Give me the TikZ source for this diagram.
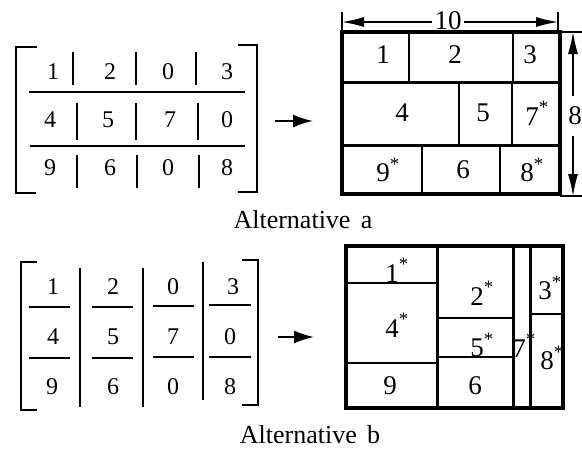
\documentclass[tikz,border=0pt]{standalone}
\usepackage{fontspec}
\setmainfont{Liberation Serif}
\usetikzlibrary{arrows.meta}
\newcommand{\astr}{\rlap{\raisebox{0.1em}{\textsuperscript{*}}}}
\begin{document}
\begin{tikzpicture}[x=1pt,y=-1pt,
  mat/.style={line width=2pt},
  mnum/.style={font=\fontsize{24}{24}\selectfont, inner sep=0pt},
  bnum/.style={font=\fontsize{27}{27}\selectfont, inner sep=0pt},
  outer/.style={line width=3.5pt},
  sep/.style={line width=3pt},
  thinl/.style={line width=1.6pt},
  caption/.style={font=\fontsize{26}{26}\selectfont, inner sep=0pt, anchor=base},
  bigarrow/.style={line width=2pt, -{Latex[length=20pt,width=13pt]}},
  dimarrow/.style={line width=1.3pt, -{Latex[length=22pt,width=10pt]}},
  ext/.style={line width=1.6pt}]
\useasboundingbox (0,0) rectangle (582,450);

% ---------- top matrix ----------
\draw[mat] (37,47) -- (16,47) -- (16,193) -- (36,193);
\draw[mat] (238,45) -- (257,45) -- (257,192) -- (238,192);
\draw[mat] (29,92) -- (245,92);
\draw[mat] (30,146) -- (245,146);
\foreach \x in {73,136,196} \draw[mat] (\x,52) -- (\x,85);
\foreach \x in {77,136,198} \draw[mat] (\x,103) -- (\x,140);
\foreach \x in {77,137,199} \draw[mat] (\x,155) -- (\x,188);
\node[mnum] (ta11) at (53,72) {1};
\node[mnum] (ta12) at (110,72) {2};
\node[mnum] (ta13) at (168,72) {0};
\node[mnum] (ta14) at (227,72) {3};
\node[mnum] (ta21) at (50,120) {4};
\node[mnum] (ta22) at (108,120) {5};
\node[mnum] (ta23) at (170,120) {7};
\node[mnum] (ta24) at (227,120) {0};
\node[mnum] (ta31) at (50,168) {9};
\node[mnum] (ta32) at (110,168) {6};
\node[mnum] (ta33) at (168,168) {0};
\node[mnum] (ta34) at (227,168) {8};

\coordinate (aas) at (275,121);
\coordinate (aae) at (313,121);
\draw[bigarrow] (aas) -- (aae);

% ---------- top box ----------
\draw[sep] (342,82) -- (560,82);
\draw[sep] (342,145) -- (560,145);
\draw[thinl] (409,32) -- (409,82);
\draw[thinl] (513,32) -- (513,82);
\draw[thinl] (459,82) -- (459,145);
\draw[thinl] (512,82) -- (512,145);
\draw[thinl] (422,145) -- (422,194);
\draw[thinl] (500,145) -- (500,194);
\draw[outer] (342,32) rectangle (560,194);
\node[bnum] (ba1) at (383,55) {1};
\node[bnum] (ba2) at (455,55) {2};
\node[bnum] (ba3) at (530,55) {3};
\node[bnum] (ba4) at (402,113) {4};
\node[bnum] (ba5) at (483,113) {5};
\node[bnum] (ba7) at (532,113) {7\astr};
\node[bnum] (ba9) at (383,170) {9\astr};
\node[bnum] (ba6) at (463,170) {6};
\node[bnum] (ba8) at (527,170) {8\astr};

% dimension 10
\draw[ext] (342,12) -- (342,32);
\draw[ext] (558,12) -- (558,32);
\node[bnum] (d10) at (448,21) {10};
\coordinate (d10l) at (342,22);
\coordinate (d10r) at (558,22);
\draw[dimarrow] (d10.west) ++(-2,1) -- (d10l);
\draw[dimarrow] (d10.east) ++(2,1) -- (d10r);
% dimension 8
\draw[ext] (560,32) -- (582,32);
\draw[ext] (560,196) -- (582,196);
\node[bnum] (d8) at (575,116) {8};
\coordinate (d8t) at (573,32);
\coordinate (d8b) at (573,196);
\draw[dimarrow] (573,96) -- (d8t);
\draw[dimarrow] (573,136) -- (d8b);

\node[caption] (capa) at (303,228) {Alternative\hspace{0.4em}a};

% ---------- bottom matrix ----------
\draw[mat] (37,262) -- (21,262) -- (21,410) -- (37,410);
\draw[mat] (242,260) -- (258,260) -- (258,405) -- (242,405);
\draw[mat] (80,268) -- (80,407);
\draw[mat] (143,268) -- (143,407);
\draw[mat] (203,262) -- (203,400);
\foreach \a/\b/\u/\v in {29/70/307/358, 92/133/307/358, 153/194/306/357, 209/251/305/357} {
  \draw[mat] (\a,\u) -- (\b,\u);
  \draw[mat] (\a,\v) -- (\b,\v);
}
\node[mnum] (tb11) at (53,287) {1};
\node[mnum] (tb21) at (53,337) {4};
\node[mnum] (tb31) at (52,387) {9};
\node[mnum] (tb12) at (113,287) {2};
\node[mnum] (tb22) at (113,337) {5};
\node[mnum] (tb32) at (113,387) {6};
\node[mnum] (tb13) at (173,287) {0};
\node[mnum] (tb23) at (173,337) {7};
\node[mnum] (tb33) at (173,387) {0};
\node[mnum] (tb14) at (233,287) {3};
\node[mnum] (tb24) at (230,337) {0};
\node[mnum] (tb34) at (230,387) {8};

\coordinate (abs) at (278,337);
\coordinate (abe) at (314,337);
\draw[bigarrow] (abs) -- (abe);

% ---------- bottom box ----------
\draw[thinl] (346,283) -- (437,283);
\draw[thinl] (346,363) -- (437,363);
\draw[thinl] (437,318) -- (513,318);
\draw[thinl] (437,357) -- (513,357);
\draw[thinl] (530,314) -- (563,314);
\draw[sep] (437,246) -- (437,408);
\draw[sep] (513,246) -- (513,408);
\draw[sep] (530,246) -- (530,408);
\draw[outer] (346,246) rectangle (563,408);
\node[bnum] (bb1) at (392,270) {1\astr};
\node[bnum] (bb4) at (392,325) {4\astr};
\node[bnum] (bb9) at (390,386) {9};
\node[bnum] (bb2) at (477,293) {2\astr};
\node[bnum] (bb5) at (477,345) {5\astr};
\node[bnum] (bb6) at (475,386) {6};
\node[bnum] (bb7) at (519,345) {7\astr};
\node[bnum] (bb3) at (545,288) {3\astr};
\node[bnum] (bb8) at (547,358) {8\astr};

\node[caption] (capb) at (310,443) {Alternative\hspace{0.4em}b};
\end{tikzpicture}
\end{document}
